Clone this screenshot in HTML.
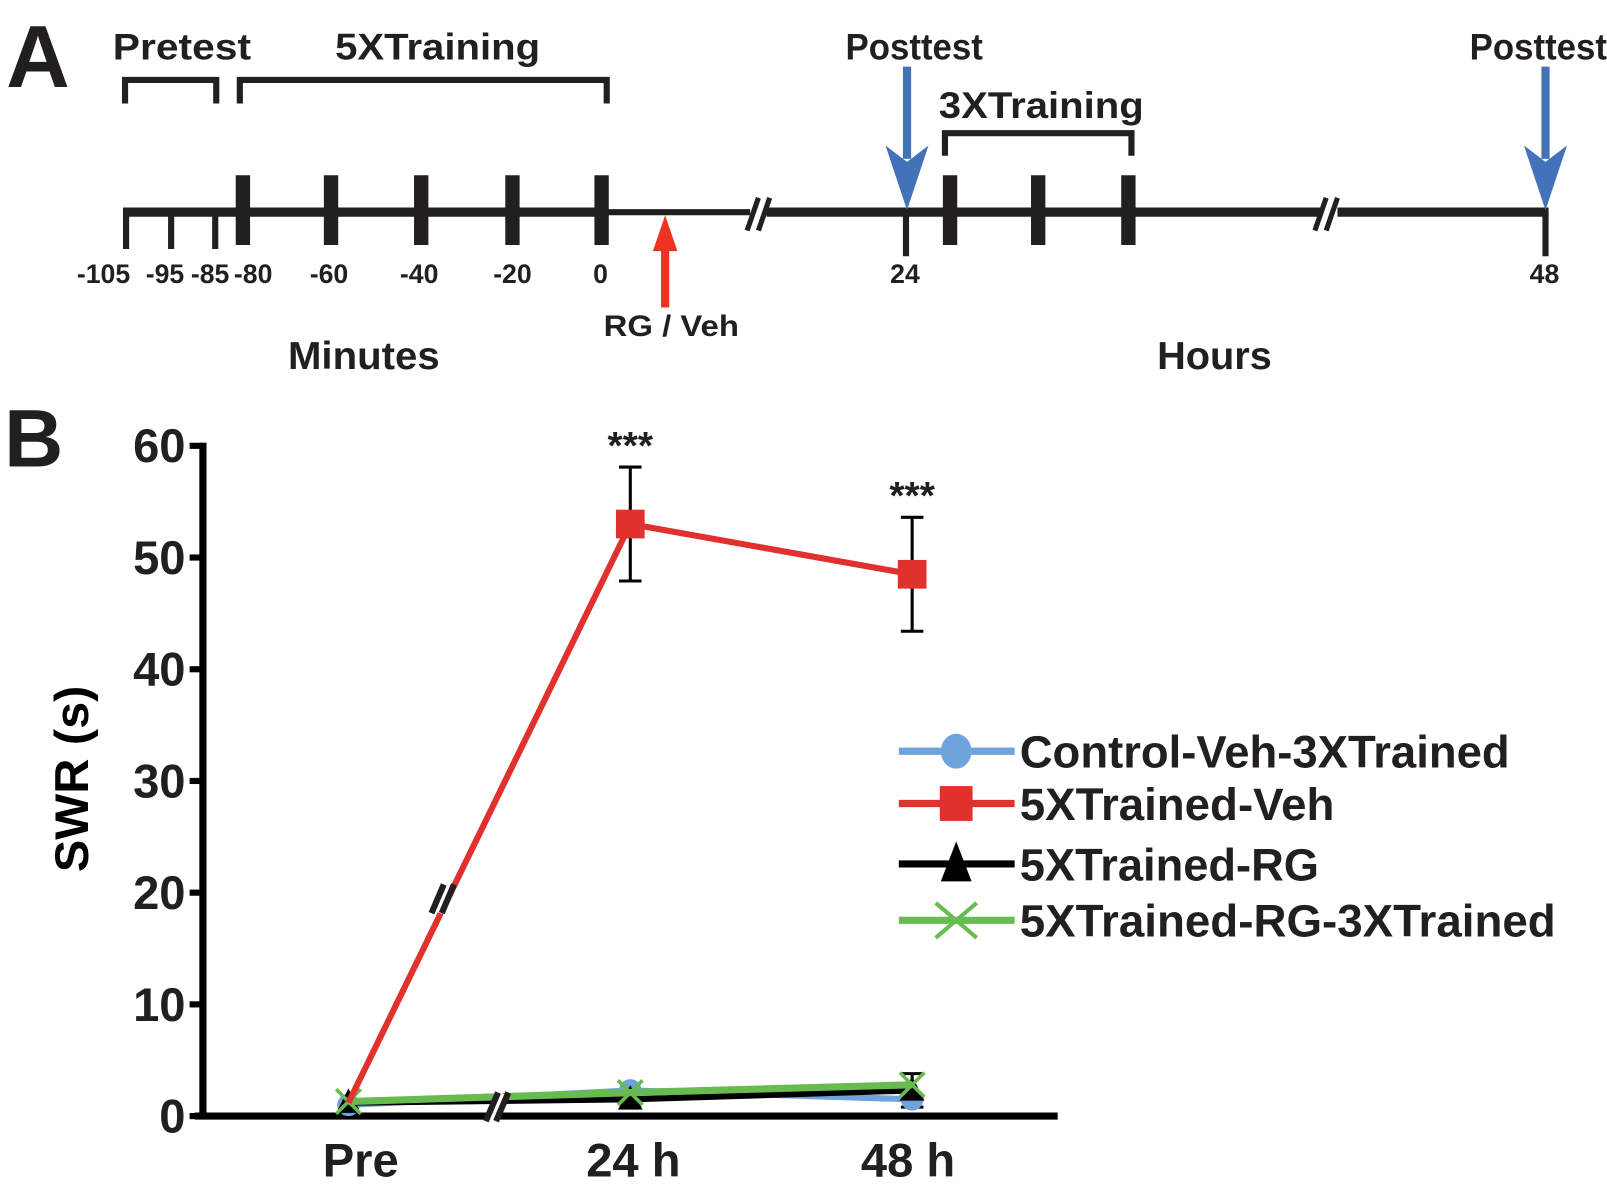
<!DOCTYPE html>
<html><head><meta charset="utf-8"><style>
html,body{margin:0;padding:0;background:#fff;}
svg{display:block;font-family:"Liberation Sans",sans-serif;font-weight:bold;}
</style></head><body>
<svg id="fig" width="1607" height="1195" viewBox="0 0 1568 1166" preserveAspectRatio="none">
<!-- Panel A -->
<g fill="#231f20" stroke="#231f20">
<text x="6" y="85" font-size="86" stroke="none">A</text>
<text x="110" y="58" font-size="36" stroke="none" textLength="135" lengthAdjust="spacingAndGlyphs">Pretest</text>
<text x="327" y="58" font-size="36" stroke="none" textLength="200" lengthAdjust="spacingAndGlyphs">5XTraining</text>
<path d="M122,101 V78 H211 V101" fill="none" stroke-width="6"/>
<path d="M234,101 V78 H592 V101" fill="none" stroke-width="6"/>
<line x1="120" y1="207" x2="593" y2="207" stroke-width="9"/>
<line x1="593" y1="207" x2="732" y2="207" stroke-width="6"/>
<line x1="748" y1="207" x2="1290" y2="207" stroke-width="9"/>
<line x1="1305" y1="207" x2="1511" y2="207" stroke-width="9"/>
<line x1="729" y1="225" x2="740" y2="193" stroke-width="5"/>
<line x1="740" y1="225" x2="751" y2="193" stroke-width="5"/>
<line x1="1283" y1="225" x2="1294" y2="193" stroke-width="5"/>
<line x1="1294" y1="225" x2="1305" y2="193" stroke-width="5"/>
<g stroke-width="6">
<line x1="123" y1="207" x2="123" y2="243"/><line x1="167" y1="207" x2="167" y2="243"/><line x1="210" y1="207" x2="210" y2="243"/>
<line x1="884" y1="207" x2="884" y2="250"/><line x1="1508" y1="207" x2="1508" y2="250"/>
</g>
<g stroke-width="14">
<line x1="237" y1="171" x2="237" y2="239"/><line x1="323" y1="171" x2="323" y2="239"/><line x1="411" y1="171" x2="411" y2="239"/><line x1="500" y1="171" x2="500" y2="239"/><line x1="587" y1="171" x2="587" y2="239"/>
<line x1="927" y1="171" x2="927" y2="239"/><line x1="1013" y1="171" x2="1013" y2="239"/><line x1="1101" y1="171" x2="1101" y2="239"/>
</g>
<g font-size="26" stroke="none" text-anchor="middle">
<text x="101" y="276">-105</text><text x="161" y="276">-95</text><text x="205" y="276">-85</text><text x="247" y="276">-80</text>
<text x="321" y="276">-60</text><text x="409" y="276">-40</text><text x="500" y="276">-20</text><text x="586" y="276">0</text>
<text x="883" y="276">24</text><text x="1507" y="276">48</text>
</g>
<path d="M922,152 V130 H1104 V152" fill="none" stroke-width="6"/>
<text x="1016" y="115" font-size="36" stroke="none" text-anchor="middle" textLength="200" lengthAdjust="spacingAndGlyphs">3XTraining</text>
<text x="892" y="58" font-size="36" stroke="none" text-anchor="middle" textLength="134" lengthAdjust="spacingAndGlyphs">Posttest</text>
<text x="1501" y="58" font-size="36" stroke="none" text-anchor="middle" textLength="134" lengthAdjust="spacingAndGlyphs">Posttest</text>
<g fill="#4472b8" stroke="none">
<rect x="881" y="65" width="8" height="90"/><path d="M864,142 L885,205 L906,142 L885,158 Z"/>
<rect x="1504" y="65" width="8" height="90"/><path d="M1487,142 L1508,205 L1529,142 L1508,158 Z"/>
</g>
<g fill="#ee3224" stroke="none">
<rect x="645" y="225" width="8" height="75"/><path d="M637,245 L649,210 L661,245 Z"/>
</g>
<text x="655" y="328" font-size="29" stroke="none" text-anchor="middle" textLength="132" lengthAdjust="spacingAndGlyphs">RG / Veh</text>
<text x="355" y="360" font-size="38" stroke="none" text-anchor="middle" textLength="148" lengthAdjust="spacingAndGlyphs">Minutes</text>
<text x="1185" y="360" font-size="38" stroke="none" text-anchor="middle" textLength="112" lengthAdjust="spacingAndGlyphs">Hours</text>
</g>
<!-- Panel B -->
<text x="4" y="455" font-size="80" fill="#231f20">B</text>
<g id="chart"></g>
</svg>
<script>
const categories = ["Pre", "24 h", "48 h"];
const yTicks = [0, 10, 20, 30, 40, 50, 60];
const seriesNames = ["Control-Veh-3XTrained", "5XTrained-Veh", "5XTrained-RG", "5XTrained-RG-3XTrained"];
const controlVeh = [1.0, 2.3, 1.5];
const trainedVeh = [1.2, 53.0, 48.5];
const trainedVehErr = [0, 5.1, 5.1];
const trainedRG = [1.2, 1.5, 2.3];
const trainedRGErr = [0, 0, 1.5];
const trainedRG3X = [1.3, 2.1, 2.8];
const sigLabels = ["", "***", "***"];

const NS = "http://www.w3.org/2000/svg";
const g = document.getElementById("chart");
const x0 = 198, yBase = 1089, yTop = 435;
const xs = [340, 614, 890];
function xPos(i){ return xs[0] + i*(xs[2]-xs[0])/(categories.length-1); }
function yPos(v){ return yBase - v*(yBase-yTop)/60; }
function mk(tag, attrs, parent){ const e=document.createElementNS(NS,tag); for(const k in attrs) e.setAttribute(k,attrs[k]); (parent||g).appendChild(e); return e; }

let ax = mk("line",{x1:x0,y1:yTop-3,x2:x0,y2:yBase+3,stroke:"#000","stroke-width":7});


let xa = mk("line",{x1:x0-8,y1:yBase,x2:1032,y2:yBase,stroke:"#000","stroke-width":7});


yTicks.forEach(v=>{
  mk("line",{x1:x0-13,y1:yPos(v),x2:x0,y2:yPos(v),stroke:"#000","stroke-width":6});
  const t = mk("text",{x:x0-17,y:yPos(v)+16,"font-size":46,"text-anchor":"end",fill:"#231f20"});
  t.textContent = v;
  
  
});
categories.forEach((c,i)=>{
  const t = mk("text",{x:xPos(i)+(i==0?12:i==1?3:-4),y:1148,"font-size":46,"text-anchor":"middle",fill:"#231f20"});
  t.textContent = c;
  
  
});
const yt = mk("text",{x:0,y:0,"font-size":46,"text-anchor":"middle",fill:"#000",transform:"translate(86,760) rotate(-90)",textLength:182,lengthAdjust:"spacingAndGlyphs"});
yt.textContent = "SWR (s)";



function pts(arr){ return arr.map((v,i)=>xPos(i)+","+yPos(v)).join(" "); }
function errBars(vals, errs, color){
  vals.forEach((v,i)=>{ if(!errs[i]) return;
    const x=xPos(i);
    mk("line",{x1:x,y1:yPos(v-errs[i]),x2:x,y2:yPos(v+errs[i]),stroke:color,"stroke-width":3});
    mk("line",{x1:x-11,y1:yPos(v+errs[i]),x2:x+11,y2:yPos(v+errs[i]),stroke:color,"stroke-width":3});
    mk("line",{x1:x-11,y1:yPos(v-errs[i]),x2:x+11,y2:yPos(v-errs[i]),stroke:color,"stroke-width":3});
  });
}
errBars(trainedVeh, trainedVehErr, "#000");
errBars(trainedRG, trainedRGErr, "#000");

let l = mk("polyline",{points:pts(controlVeh),fill:"none",stroke:"#6fa3dc","stroke-width":6});


controlVeh.forEach((v,i)=>{ const c=mk("circle",{cx:xPos(i),cy:yPos(v),r:11,fill:"#6fa3dc"});
  
   });
l = mk("polyline",{points:pts(trainedRG),fill:"none",stroke:"#000","stroke-width":6});


trainedRG.forEach((v,i)=>{ const x=xPos(i),y=yPos(v); const p=mk("path",{d:`M${x-12},${y+10} L${x},${y-14} L${x+12},${y+10} Z`,fill:"#000"});
  
   });
l = mk("polyline",{points:pts(trainedRG3X),fill:"none",stroke:"#68bb4f","stroke-width":7});


trainedRG3X.forEach((v,i)=>{ const x=xPos(i),y=yPos(v); const p=mk("path",{d:`M${x-12},${y-12} L${x+12},${y+12} M${x-12},${y+12} L${x+12},${y-12}`,stroke:"#68bb4f","stroke-width":3.5});
  
   });
l = mk("polyline",{points:pts(trainedVeh),fill:"none",stroke:"#e0312f","stroke-width":6});


trainedVeh.forEach((v,i)=>{ if(i==0) return; const r=mk("rect",{x:xPos(i)-14,y:yPos(v)-14,width:28,height:28,fill:"#e0312f"});
  
   });
[[432,877],[485,1080]].forEach(([bx,by])=>{
  mk("rect",{x:bx-7,y:by-14,width:14,height:28,fill:"#fff",transform:`rotate(20 ${bx} ${by})`});
  mk("line",{x1:bx-11,y1:by+14,x2:bx+1,y2:by-14,stroke:"#231f20","stroke-width":6});
  mk("line",{x1:bx-1,y1:by+14,x2:bx+11,y2:by-14,stroke:"#231f20","stroke-width":6});
});
sigLabels.forEach((s,i)=>{ if(!s) return;
  const t=mk("text",{x:xPos(i),y:yPos(trainedVeh[i]+trainedVehErr[i])-8,"font-size":38,"text-anchor":"middle",fill:"#231f20"});
  t.textContent=s;
  
   });

const ly = [733, 784, 843, 898];
const lcol = ["#6fa3dc","#e0312f","#000","#68bb4f"];
const lw = [478, 307, 292, 523];
seriesNames.forEach((n,i)=>{
  const y=ly[i];
  const lg = mk("g",{});
  
  
  mk("line",{x1:877,y1:y,x2:990,y2:y,stroke:lcol[i],"stroke-width":7},lg);
  const cx=933;
  if(i==0) mk("ellipse",{cx:cx,cy:y,rx:15,ry:17,fill:lcol[i]},lg);
  if(i==1) mk("rect",{x:cx-16,y:y-17,width:32,height:34,fill:lcol[i]},lg);
  if(i==2) mk("path",{d:`M${cx-15},${y+17} L${cx},${y-22} L${cx+15},${y+17} Z`,fill:"#000"},lg);
  if(i==3) mk("path",{d:`M${cx-20},${y-17} L${cx+20},${y+17} M${cx-20},${y+17} L${cx+20},${y-17}`,stroke:lcol[i],"stroke-width":4},lg);
  const t=mk("text",{x:995,y:y+16,"font-size":44,fill:"#231f20",textLength:lw[i],lengthAdjust:"spacingAndGlyphs"},lg);
  t.textContent=n;
});
</script>
</body></html>
